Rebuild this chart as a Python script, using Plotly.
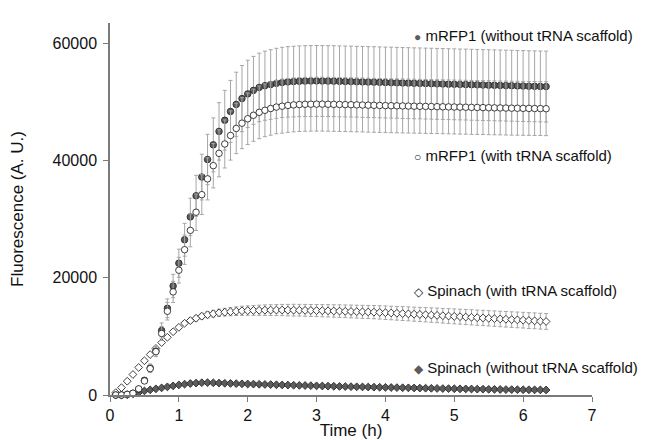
import plotly.graph_objects as go

# time points (minutes)
time_min = [5, 10, 15, 20, 25, 30, 35, 40, 45, 50, 55, 60, 65, 70, 75, 80, 85, 90, 95, 100,
            105, 110, 115, 120, 125, 130, 135, 140, 145, 150, 155, 160, 165, 170, 175, 180, 185, 190, 195, 200,
            205, 210, 215, 220, 225, 230, 235, 240, 245, 250, 255, 260, 265, 270, 275, 280, 285, 290, 295, 300,
            305, 310, 315, 320, 325, 330, 335, 340, 345, 350, 355, 360, 365, 370, 375, 380]
time_h = [m / 60 for m in time_min]

mrfp_without = [0, 0, 100, 300, 1000, 2500, 4600, 7500, 11000, 14800,
                18600, 22500, 26500, 30400, 34000, 37200, 40200, 42700, 45000, 46900,
                48400, 49600, 50600, 51400, 52000, 52500, 52800, 53000, 53200, 53350,
                53450, 53500, 53550, 53580, 53600, 53610, 53600, 53580, 53570, 53540,
                53520, 53500, 53470, 53450, 53420, 53400, 53370, 53340, 53320, 53290,
                53260, 53240, 53210, 53190, 53160, 53140, 53110, 53090, 53060, 53040,
                53010, 52990, 52960, 52940, 52910, 52890, 52860, 52840, 52810, 52790,
                52760, 52740, 52710, 52690, 52670, 52650]
mrfp_without_err = [100, 100, 150, 200, 300, 500, 700, 900, 1300, 1600,
                    2000, 2400, 2800, 3200, 3500, 3900, 4300, 4600, 4900, 5100,
                    5300, 5500, 5650, 5750, 5800, 5850, 5900, 5950, 5980, 6000,
                    6020, 6030, 6040, 6050, 6050, 6050, 6050, 6050, 6050, 6050,
                    6050, 6050, 6050, 6050, 6050, 6050, 6050, 6050, 6050, 6050,
                    6050, 6050, 6050, 6050, 6050, 6050, 6050, 6050, 6050, 6050,
                    6050, 6050, 6050, 6050, 6050, 6050, 6050, 6050, 6050, 6050,
                    6050, 6050, 6050, 6050, 6050, 6050]

mrfp_with = [0, 0, 100, 300, 1050, 2400, 4500, 7400, 10500, 14300,
             17600, 21300, 24800, 28100, 31200, 34200, 36900, 39150, 41250, 42850,
             44300, 45500, 46400, 47150, 47750, 48250, 48600, 48900, 49150, 49300,
             49430, 49520, 49580, 49620, 49640, 49650, 49650, 49630, 49610, 49590,
             49570, 49550, 49520, 49500, 49470, 49450, 49420, 49400, 49380, 49360,
             49340, 49320, 49300, 49280, 49260, 49240, 49220, 49200, 49180, 49160,
             49140, 49120, 49100, 49080, 49060, 49040, 49020, 49000, 48980, 48960,
             48950, 48930, 48920, 48900, 48890, 48870]
mrfp_with_err = [100, 100, 150, 200, 300, 450, 650, 850, 1200, 1500,
                 1800, 2200, 2500, 2800, 3100, 3400, 3600, 3800, 4000, 4100,
                 4200, 4300, 4350, 4400, 4450, 4500, 4500, 4550, 4550, 4600,
                 4600, 4600, 4600, 4600, 4600, 4600, 4600, 4600, 4600, 4600,
                 4600, 4600, 4600, 4600, 4600, 4600, 4600, 4600, 4600, 4600,
                 4600, 4600, 4600, 4600, 4600, 4600, 4600, 4600, 4600, 4600,
                 4600, 4600, 4600, 4600, 4600, 4600, 4600, 4600, 4600, 4600,
                 4600, 4600, 4600, 4600, 4600, 4600]

spinach_with = [400, 1250, 2350, 3500, 4700, 5850, 6900, 7950, 8950, 9850,
                10800, 11550, 12250, 12700, 13100, 13450, 13700, 13870, 14030, 14140,
                14220, 14300, 14370, 14410, 14440, 14460, 14480, 14490, 14500, 14500,
                14490, 14480, 14470, 14450, 14430, 14410, 14390, 14370, 14340, 14320,
                14290, 14260, 14230, 14200, 14170, 14140, 14100, 14050, 14000, 13950,
                13900, 13850, 13800, 13750, 13700, 13640, 13590, 13530, 13480, 13420,
                13370, 13310, 13260, 13200, 13150, 13090, 13040, 12980, 12930, 12870,
                12820, 12770, 12710, 12660, 12600, 12550]
spinach_with_err = [50, 80, 100, 120, 150, 180, 200, 230, 260, 290,
                    320, 350, 380, 420, 460, 500, 540, 580, 620, 660,
                    700, 740, 780, 810, 840, 870, 900, 920, 940, 960,
                    980, 1000, 1000, 1010, 1020, 1030, 1040, 1050, 1060, 1070,
                    1080, 1090, 1100, 1110, 1120, 1130, 1140, 1150, 1160, 1170,
                    1180, 1190, 1200, 1210, 1220, 1230, 1240, 1250, 1260, 1270,
                    1280, 1290, 1300, 1300, 1310, 1310, 1320, 1320, 1330, 1330,
                    1340, 1340, 1350, 1350, 1350, 1350]

spinach_without = [0, 0, 50, 200, 450, 700, 880, 1050, 1220, 1390,
                   1560, 1720, 1850, 1960, 2040, 2100, 2110, 2080, 2040, 2000,
                   1970, 1940, 1910, 1880, 1860, 1830, 1800, 1780, 1750, 1720,
                   1700, 1670, 1640, 1620, 1590, 1560, 1540, 1510, 1490, 1460,
                   1440, 1420, 1400, 1380, 1360, 1340, 1320, 1300, 1280, 1260,
                   1240, 1220, 1200, 1180, 1160, 1140, 1120, 1100, 1090, 1070,
                   1050, 1040, 1020, 1000, 990, 970, 960, 940, 930, 920,
                   910, 900, 890, 880, 870, 860]
spinach_without_err = [20, 20, 30, 40, 50, 60, 70, 80, 90, 100,
                       110, 120, 130, 140, 150, 150, 150, 150, 150, 150,
                       150, 150, 150, 150, 150, 150, 150, 150, 150, 150,
                       150, 150, 150, 150, 150, 150, 150, 150, 150, 150,
                       150, 150, 150, 150, 150, 150, 150, 150, 150, 150,
                       150, 150, 150, 150, 150, 150, 150, 150, 150, 150,
                       150, 150, 150, 150, 150, 150, 150, 150, 150, 150,
                       150, 150, 150, 150, 150, 150]

labels = ["mRFP1 (without tRNA scaffold)", "mRFP1 (with tRNA scaffold)",
          "Spinach (with tRNA scaffold)", "Spinach (without tRNA scaffold)"]
label_symbols = ["●", "○", "◇", "◆"]
label_y = [61400, 40900, 17850, 4700]
x_ticks = [0, 1, 2, 3, 4, 5, 6, 7]
y_ticks = [0, 20000, 40000, 60000]

FONT = "Liberation Sans, Arial, sans-serif"
DARK = "#5c5c5c"
EDGE = "#2a2a2a"
ERRC = "#a6a6a6"
TXT = "#111111"

fig = go.Figure()

def add(y, err, symbol, fill, size):
    fig.add_trace(go.Scatter(
        x=time_h, y=y, mode="markers",
        marker=dict(symbol=symbol, size=size, color=fill, line=dict(color=EDGE, width=0.9)),
        error_y=dict(type="data", array=err, visible=True, color=ERRC, thickness=1, width=2),
        showlegend=False, cliponaxis=False))

add(spinach_without, spinach_without_err, "diamond", DARK, 6)
add(spinach_with, spinach_with_err, "diamond", "white", 6)
add(mrfp_without, mrfp_without_err, "circle", DARK, 6.5)
add(mrfp_with, mrfp_with_err, "circle", "white", 6.5)

sym_colors = [DARK, "#1a1a1a", "#1a1a1a", DARK]
for lab, sym, yy, sc in zip(labels, label_symbols, label_y, sym_colors):
    fig.add_annotation(
        x=4.38, y=yy, xref="x", yref="y", xanchor="left", yanchor="middle",
        text=f"<span style='font-size:12px;color:{sc}'>{sym}</span> {lab}",
        showarrow=False, font=dict(family=FONT, size=15, color=TXT))

# page body has an 8px default margin, so the figure is sized 8px smaller
fig.update_layout(
    width=649, height=432,
    margin=dict(l=102, r=65, t=15, b=45),
    paper_bgcolor="white", plot_bgcolor="white",
    font=dict(family=FONT, color=TXT),
    xaxis=dict(range=[0, 7], tickvals=x_ticks, ticktext=[str(v) for v in x_ticks],
               showgrid=False, zeroline=False, showline=True, linecolor="#7a7a7a", linewidth=1.5,
               ticks="outside", ticklen=5, tickcolor="#7a7a7a", tickwidth=1, automargin=False,
               tickfont=dict(family=FONT, size=16, color=TXT),
               title=dict(text="Time (h)", font=dict(family=FONT, size=17, color=TXT), standoff=4)),
    yaxis=dict(range=[0, 63500], tickvals=y_ticks, ticktext=[str(v) for v in y_ticks],
               showgrid=False, zeroline=False, showline=True, linecolor="#7a7a7a", linewidth=1.5,
               ticks="outside", ticklen=5, tickcolor="#7a7a7a", tickwidth=1, automargin=False,
               ticklabelstandoff=3,
               tickfont=dict(family=FONT, size=16, color=TXT),
               title=dict(text="Fluorescence (A. U.)", font=dict(family=FONT, size=17, color=TXT), standoff=30)),
)

fig.write_html("out.html")
